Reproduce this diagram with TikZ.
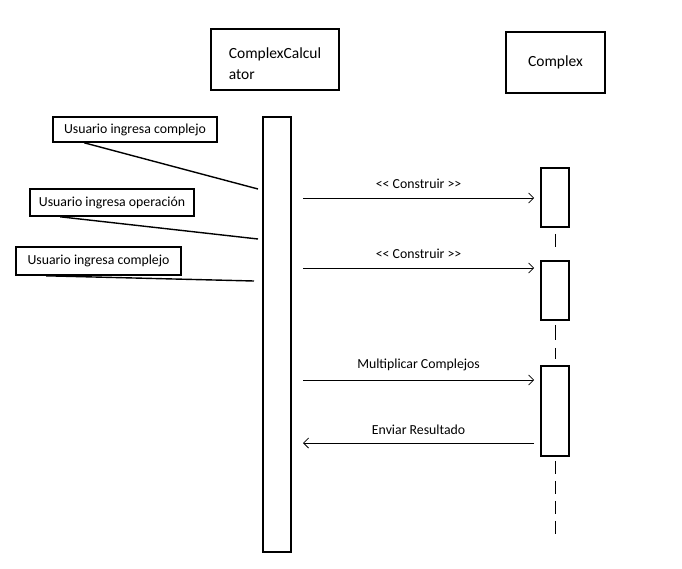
\documentclass[tikz,border=0pt]{standalone}
\usepackage{fontspec}
\setmainfont{Carlito}
\usetikzlibrary{arrows.meta,positioning}

\begin{document}
\begin{tikzpicture}[x=1pt, y=-1pt, >={Straight Barb[length=5pt,width=10pt]},
  font=\fontsize{13.8}{17}\selectfont]
\tikzset{%
  object/.style = {%
    draw,
    line width=1.6pt,
    inner sep=0pt,
    font=\fontsize{15.5}{21}\selectfont},
  activation/.style = {%
    draw,
    line width=1.6pt,
    minimum width=28pt,
    inner sep=0pt},
  usernote/.style = {%
    draw,
    line width=1.6pt,
    minimum width=164pt,
    inner sep=0pt},
  message/.style = {->, line width=0.8pt},
  noteline/.style = {line width=1.4pt},
  lifeline/.style = {line width=1pt}
}
  \useasboundingbox (0,0) rectangle (682,568);

  \node[object, minimum width=128pt, minimum height=61pt,
    label={[align=left, yshift=-4pt, font=\fontsize{15.5}{21}\selectfont]%
      center:ComplexCalcul\\ator}]
    (calc) at (275,59.5) {};
  \node[object, minimum width=99pt, minimum height=61pt]
    (complex) at (555.5,62.5) {Complex};

  \node[activation, minimum height=435pt] (calcbar) at (277,334.5) {};
  \node[activation, minimum height=59pt] (barone) at (555,197.5) {};
  \node[activation, minimum height=59pt] (bartwo) at (555,290.5) {};
  \node[activation, minimum height=90pt] (barthree) at (555,411) {};

  \draw[lifeline] ([yshift=-6pt]barone.south) -- ([yshift=13pt]bartwo.north);
  \draw[lifeline, dash pattern=on 15pt off 8pt]
    ([yshift=-4pt]bartwo.south) -- ([yshift=6pt]barthree.north);
  \draw[lifeline, dash pattern=on 13pt off 7pt]
    ([yshift=-4pt]barthree.south) -- ++(0,77);

  \node[usernote, minimum height=25pt] (noteone) at (135,129.5)
    {Usuario ingresa complejo};
  \node[usernote, minimum height=27pt] (notetwo) at (112,202.5)
    {Usuario ingresa operación};
  \node[usernote, minimum width=165pt, minimum height=28pt] (notethree)
    at (98.5,261) {Usuario ingresa complejo};

  \coordinate (inone) at (258,189);
  \coordinate (intwo) at (258,239);
  \coordinate (inthree) at (254,281);
  \draw[noteline] ([xshift=32pt]noteone.south west) -- (inone);
  \draw[noteline] ([xshift=31pt]notetwo.south west) -- (intwo);
  \draw[noteline] ([xshift=31pt]notethree.south west) -- (inthree);

  \coordinate (sendone) at (303,198);
  \coordinate (sendtwo) at (303,268);
  \coordinate (sendthree) at (303,380);
  \coordinate (backfour) at (303,443);
  \draw[message] (sendone) -- node[above=6pt] {<\kern0pt< Construir >\kern0pt>}
    ([xshift=-6pt]sendone -| barone.west);
  \draw[message] (sendtwo) -- node[above=6pt] {<\kern0pt< Construir >\kern0pt>}
    ([xshift=-6pt]sendtwo -| bartwo.west);
  \draw[message] (sendthree) -- node[above=5pt] {Multiplicar Complejos}
    ([xshift=-6pt]sendthree -| barthree.west);
  \draw[message] ([xshift=-6pt]backfour -| barthree.west) --
    node[above=5pt] {Enviar Resultado} (backfour);
\end{tikzpicture}
\end{document}
